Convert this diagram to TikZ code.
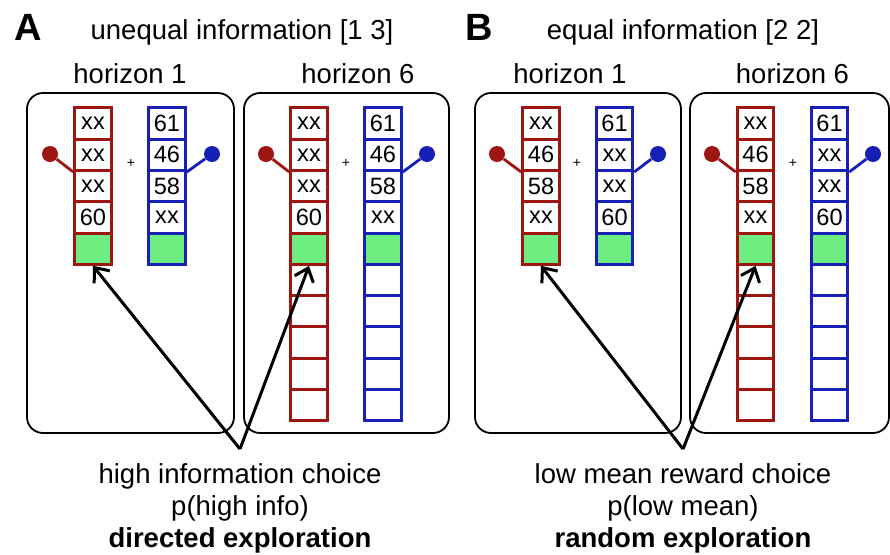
\documentclass[tikz,border=0pt]{standalone}
\usepackage{fontspec}
\setmainfont{Liberation Sans}
\usetikzlibrary{arrows.meta}
\definecolor{armred}{RGB}{158,22,18}
\definecolor{armblue}{RGB}{22,32,182}
\definecolor{chosen}{RGB}{110,238,128}

\begin{document}
\begin{tikzpicture}[x=0.5pt, y=-0.5pt,
        frame/.style={draw, line width=0.9pt, rounded corners=8pt},
        cell/.style={draw, line width=1.5pt, minimum width=18.3pt, minimum height=15.65pt,
            inner sep=0pt, font=\fontsize{11.8}{12}\selectfont},
        redcell/.style={cell, draw=armred},
        bluecell/.style={cell, draw=armblue},
        dot/.style={circle, inner sep=0pt, minimum size=8pt},
        stem/.style={line width=1.4pt},
        plus/.style={font=\fontsize{7}{7}\selectfont, inner sep=0pt},
        title/.style={font=\fontsize{13.75}{16}\selectfont, anchor=base, inner sep=0pt},
        letter/.style={font=\bfseries\fontsize{19}{20}\selectfont, anchor=base, inner sep=0pt},
        caption/.style={font=\fontsize{13.75}{16}\selectfont, align=center, anchor=north, inner sep=0pt},
        choice/.style={->, line width=1.5pt, >={Straight Barb[length=6pt,width=10pt]}}]
    \useasboundingbox (0,0) rectangle (890,554);

    % Panel A
    \node[letter] (Alabel) at (28.5,40) {A};
    \node[title] (Atitle) at (242,39) {unequal information [1 3]};

    % Horizon 1
    \begin{scope}[shift={(27,0)}]
        \draw[frame] (0,93) rectangle (207,433);
        \node[title] (A1title) at (103,83) {horizon 1};

        % Played cells
        \foreach \t [count=\i] in {xx,xx,xx,60}
            \node[redcell] (A1r\i) at (66,{123.5+31.3*(\i-1)}) {\t};
        \foreach \t [count=\i] in {61,46,58,xx}
            \node[bluecell] (A1b\i) at (140,{123.5+31.3*(\i-1)}) {\t};
        \node[redcell, fill=chosen] (A1r5) at (66,{123.5+31.3*4}) {};
        \node[bluecell, fill=chosen] (A1b5) at (140,{123.5+31.3*4}) {};

        % Bandits
        \node[dot, fill=armred] (A1rd) at (23,154) {};
        \node[dot, fill=armblue] (A1bd) at (185,154) {};
        \draw[stem, armred] (A1rd) -- (A1r2.south west);
        \draw[stem, armblue] (A1bd) -- (A1b2.south east);
        \node[plus] (A1plus) at (104,163) {+};
    \end{scope}

    % Horizon 6
    \begin{scope}[shift={(244,0)}]
        \draw[frame] (0,93) rectangle (205,433);
        \node[title] (A2title) at (114,83) {horizon 6};

        % Played cells
        \foreach \t [count=\i] in {xx,xx,xx,60}
            \node[redcell] (A2r\i) at (65,{123.5+31.3*(\i-1)}) {\t};
        \foreach \t [count=\i] in {61,46,58,xx}
            \node[bluecell] (A2b\i) at (139,{123.5+31.3*(\i-1)}) {\t};
        \node[redcell, fill=chosen] (A2r5) at (65,{123.5+31.3*4}) {};
        \node[bluecell, fill=chosen] (A2b5) at (139,{123.5+31.3*4}) {};
        \foreach \i in {6,...,10} {
            \node[redcell] (A2r\i) at (65,{123.5+31.3*(\i-1)}) {};
            \node[bluecell] (A2b\i) at (139,{123.5+31.3*(\i-1)}) {};
        }

        % Bandits
        \node[dot, fill=armred] (A2rd) at (22,154) {};
        \node[dot, fill=armblue] (A2bd) at (183,154) {};
        \draw[stem, armred] (A2rd) -- (A2r2.south west);
        \draw[stem, armblue] (A2bd) -- (A2b2.south east);
        \node[plus] (A2plus) at (102,163) {+};
    \end{scope}

    % Choice arrows A
    \coordinate (Atip) at (240,449);
    \draw[choice] (Atip) -- (A1r5.south);
    \draw[choice] (Atip) -- (A2r5.south);
    \node[caption] (Acap) at (240,463) {high information choice\\p(high info)\\\textbf{directed exploration}};

    % Panel B
    \node[letter] (Blabel) at (479.5,40) {B};
    \node[title] (Btitle) at (683,39) {equal information [2 2]};

    % Horizon 1
    \begin{scope}[shift={(475,0)}]
        \draw[frame] (0,93) rectangle (206,433);
        \node[title] (B1title) at (95,83) {horizon 1};

        % Played cells
        \foreach \t [count=\i] in {xx,46,58,xx}
            \node[redcell] (B1r\i) at (66,{123.5+31.3*(\i-1)}) {\t};
        \foreach \t [count=\i] in {61,xx,xx,60}
            \node[bluecell] (B1b\i) at (139.5,{123.5+31.3*(\i-1)}) {\t};
        \node[redcell, fill=chosen] (B1r5) at (66,{123.5+31.3*4}) {};
        \node[bluecell, fill=chosen] (B1b5) at (139.5,{123.5+31.3*4}) {};

        % Bandits
        \node[dot, fill=armred] (B1rd) at (22,154) {};
        \node[dot, fill=armblue] (B1bd) at (183,154) {};
        \draw[stem, armred] (B1rd) -- (B1r2.south west);
        \draw[stem, armblue] (B1bd) -- (B1b2.south east);
        \node[plus] (B1plus) at (102,163) {+};
    \end{scope}

    % Horizon 6
    \begin{scope}[shift={(690,0)}]
        \draw[frame] (0,93) rectangle (199,433);
        \node[title] (B2title) at (102.5,83) {horizon 6};

        % Played cells
        \foreach \t [count=\i] in {xx,46,58,xx}
            \node[redcell] (B2r\i) at (65.5,{123.5+31.3*(\i-1)}) {\t};
        \foreach \t [count=\i] in {61,xx,xx,60}
            \node[bluecell] (B2b\i) at (139.5,{123.5+31.3*(\i-1)}) {\t};
        \node[redcell, fill=chosen] (B2r5) at (65.5,{123.5+31.3*4}) {};
        \node[bluecell, fill=chosen] (B2b5) at (139.5,{123.5+31.3*4}) {};
        \foreach \i in {6,...,10} {
            \node[redcell] (B2r\i) at (65.5,{123.5+31.3*(\i-1)}) {};
            \node[bluecell] (B2b\i) at (139.5,{123.5+31.3*(\i-1)}) {};
        }

        % Bandits
        \node[dot, fill=armred] (B2rd) at (22,154) {};
        \node[dot, fill=armblue] (B2bd) at (183,154) {};
        \draw[stem, armred] (B2rd) -- (B2r2.south west);
        \draw[stem, armblue] (B2bd) -- (B2b2.south east);
        \node[plus] (B2plus) at (103,163) {+};
    \end{scope}

    % Choice arrows B
    \coordinate (Btip) at (683,449);
    \draw[choice] (Btip) -- (B1r5.south);
    \draw[choice] (Btip) -- (B2r5.south);
    \node[caption] (Bcap) at (683,463) {low mean reward choice\\p(low mean)\\\textbf{random exploration}};
\end{tikzpicture}
\end{document}
